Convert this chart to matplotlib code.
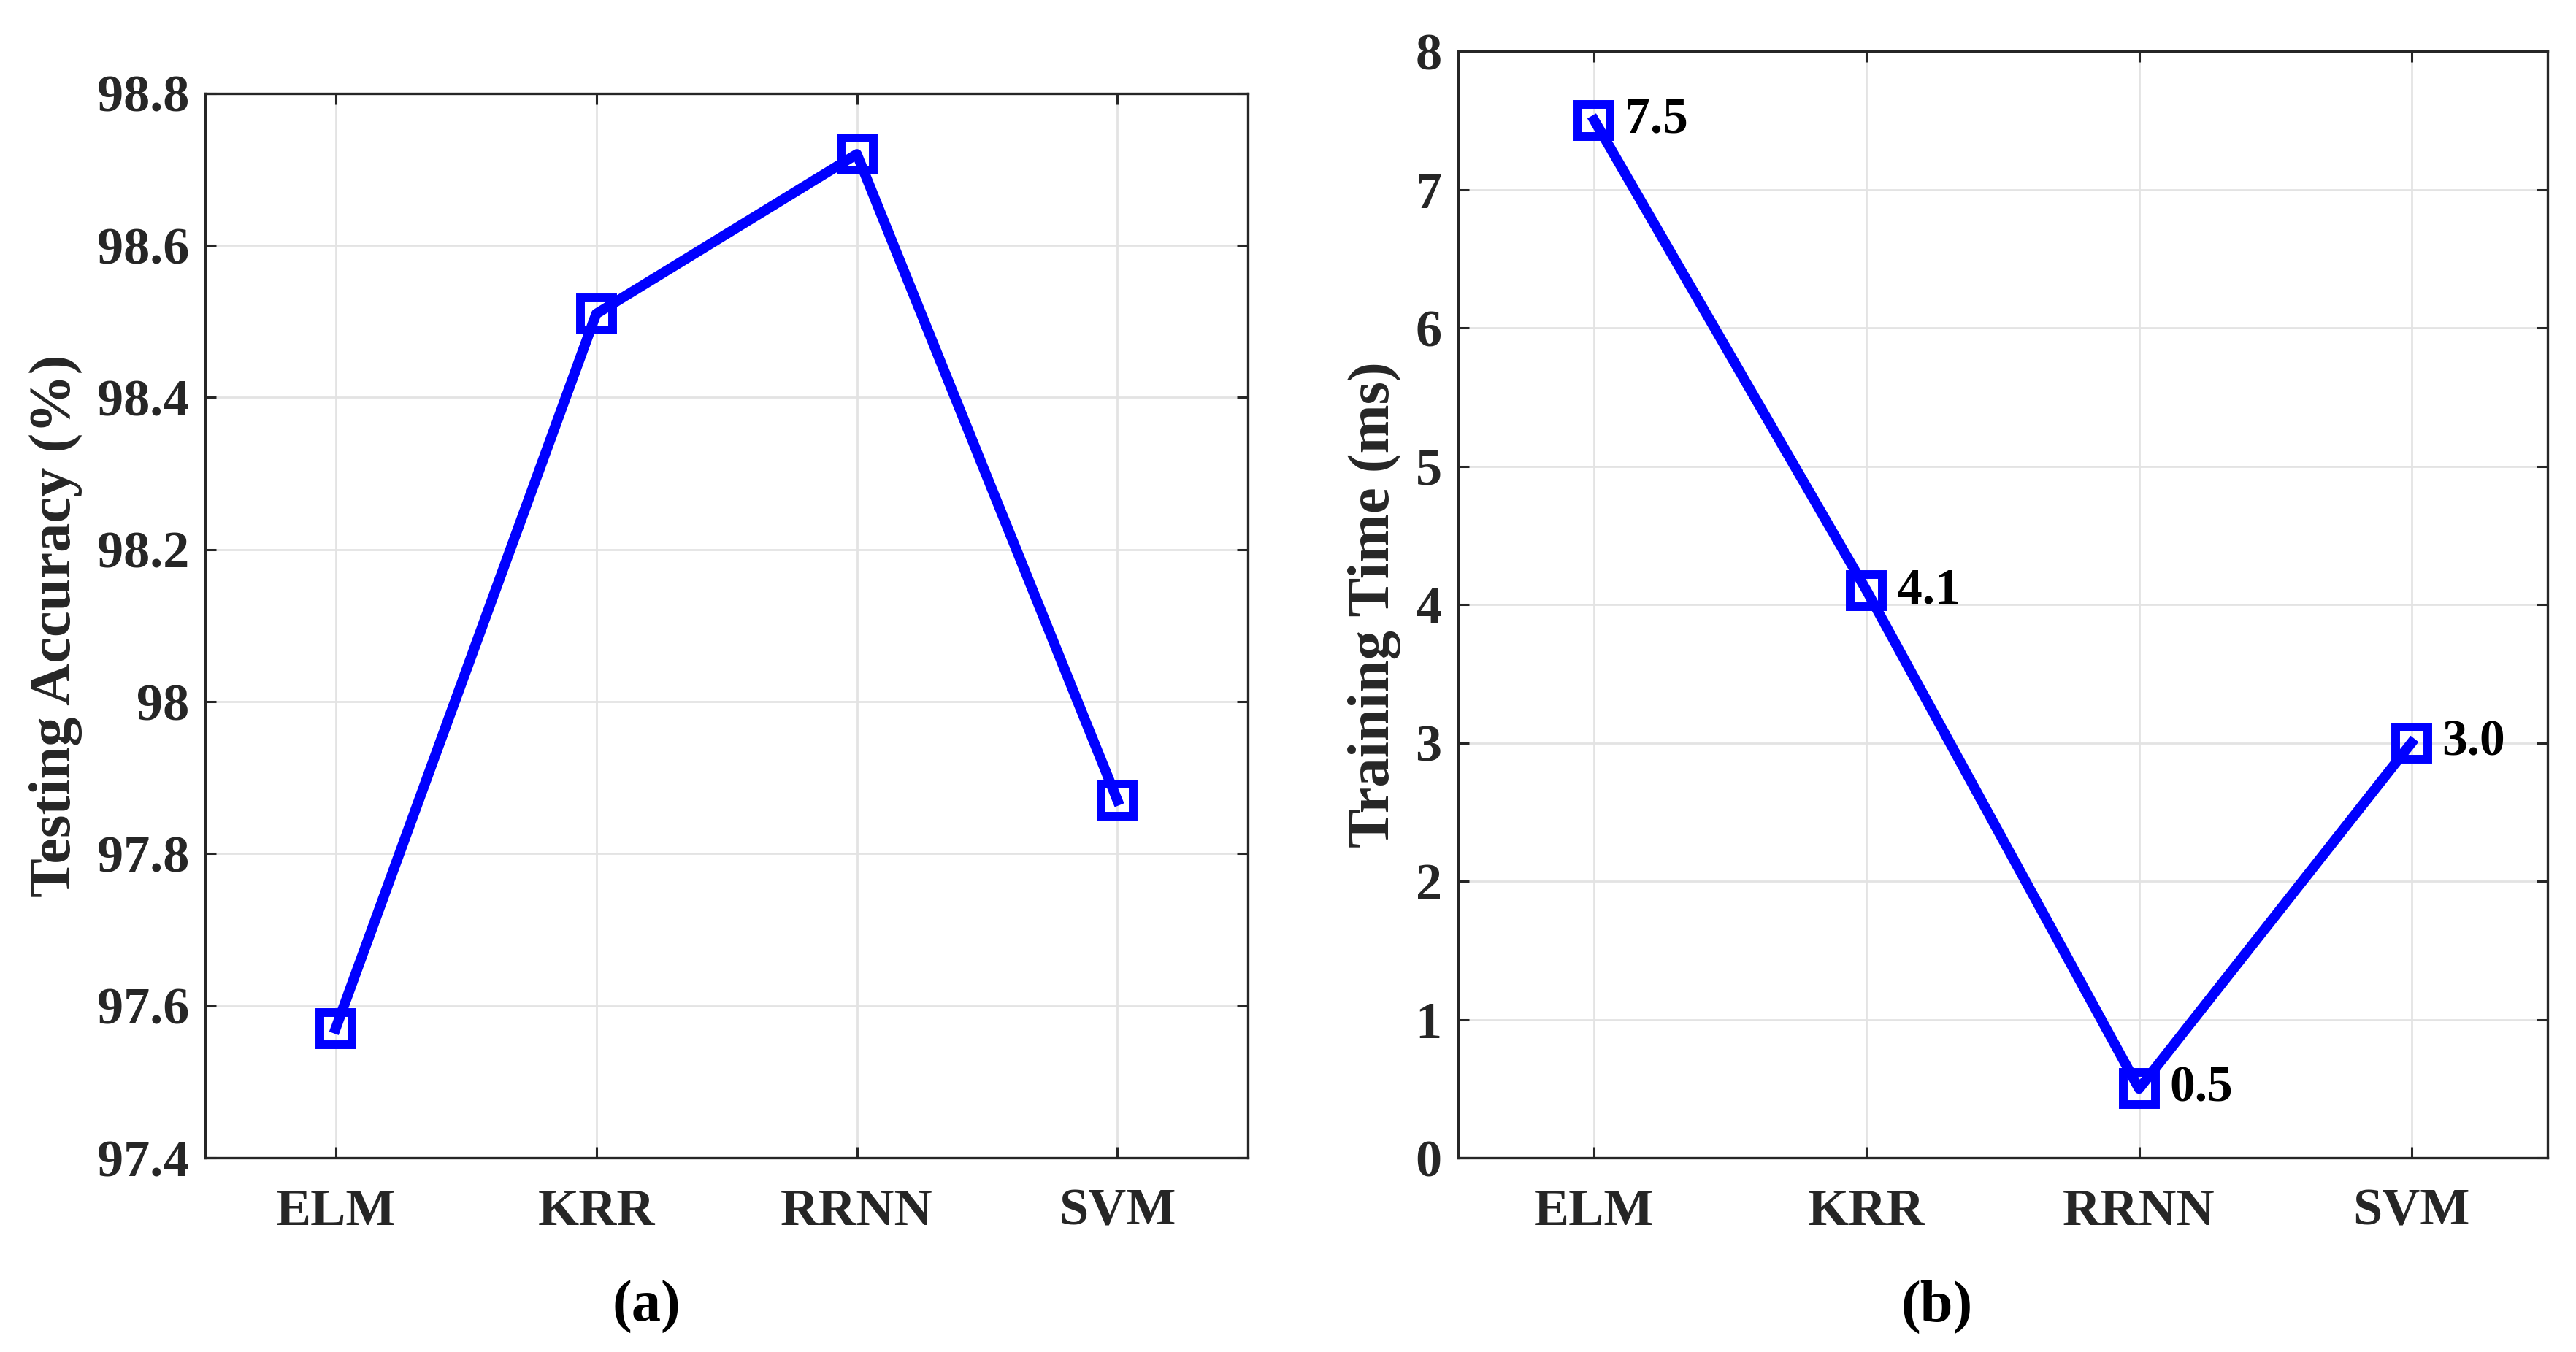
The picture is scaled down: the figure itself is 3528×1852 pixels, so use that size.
import matplotlib
matplotlib.use("Agg")
import matplotlib.pyplot as plt

# data
methods = ["ELM", "KRR", "RRNN", "SVM"]
accuracy = [97.57, 98.51, 98.72, 97.87]
train_time = [7.5, 4.1, 0.5, 3.0]
acc_ticks = [97.4, 97.6, 97.8, 98.0, 98.2, 98.4, 98.6, 98.8]
acc_ticklabels = ["97.4", "97.6", "97.8", "98", "98.2", "98.4", "98.6", "98.8"]
time_ticks = [0, 1, 2, 3, 4, 5, 6, 7, 8]

plt.rcParams["font.family"] = ["Liberation Serif", "DejaVu Serif"]
plt.rcParams["font.weight"] = "bold"

DARK = "#262626"
BLUE = "#0000ff"
FS = 26
LFS = 29


def style_axes(ax):
    for sp in ax.spines.values():
        sp.set_color(DARK)
        sp.set_linewidth(1.2)
    ax.tick_params(direction="in", length=5.5, width=1.1, color=DARK,
                   labelcolor=DARK, labelsize=FS, top=True, right=True)
    ax.tick_params(axis="x", pad=15)
    ax.tick_params(axis="y", pad=8)
    ax.grid(True, color="#e3e3e3", linewidth=1.0)
    ax.set_axisbelow(True)
    for lab in ax.get_xticklabels() + ax.get_yticklabels():
        lab.set_fontweight("bold")


fig = plt.figure(figsize=(17.64, 9.26), dpi=200)

x = list(range(1, len(methods) + 1))

# (a) testing accuracy
ax1 = fig.add_axes([0.0797, 0.1436, 0.4047, 0.7874])
ax1.plot(x, accuracy, color=BLUE, linewidth=5, marker="s", markersize=16,
         markerfacecolor="none", markeredgecolor=BLUE, markeredgewidth=4.3)
ax1.set_xlim(0.5, 4.5)
ax1.set_ylim(97.4, 98.8)
ax1.set_xticks(x)
ax1.set_xticklabels(methods)
ax1.set_yticks(acc_ticks)
ax1.set_yticklabels(acc_ticklabels)
style_axes(ax1)
ax1.set_ylabel("Testing Accuracy (%)", fontsize=LFS, fontweight="bold", color=DARK)
ax1.yaxis.set_label_coords(-0.118, 0.5)

# (b) training time
ax2 = fig.add_axes([0.566, 0.1436, 0.423, 0.8186])
ax2.plot(x, train_time, color=BLUE, linewidth=5, marker="s", markersize=16,
         markerfacecolor="none", markeredgecolor=BLUE, markeredgewidth=4.3)
ax2.set_xlim(0.5, 4.5)
ax2.set_ylim(0, 8)
ax2.set_xticks(x)
ax2.set_xticklabels(methods)
ax2.set_yticks(time_ticks)
style_axes(ax2)
ax2.set_ylabel("Training Time (ms)", fontsize=LFS, fontweight="bold", color=DARK)
ax2.yaxis.set_label_coords(-0.052, 0.5)

for xi, v in zip(x, train_time):
    ax2.annotate(f"{v:.1f}", (xi, v), xytext=(15, 0), textcoords="offset points",
                 ha="left", va="center", fontsize=FS - 1, fontweight="bold",
                 color="black")

fig.text(0.251, 0.033, "(a)", ha="center", va="center", fontsize=LFS,
         fontweight="bold", color="black")
fig.text(0.752, 0.033, "(b)", ha="center", va="center", fontsize=LFS,
         fontweight="bold", color="black")

fig.savefig("out.png", dpi=200)
